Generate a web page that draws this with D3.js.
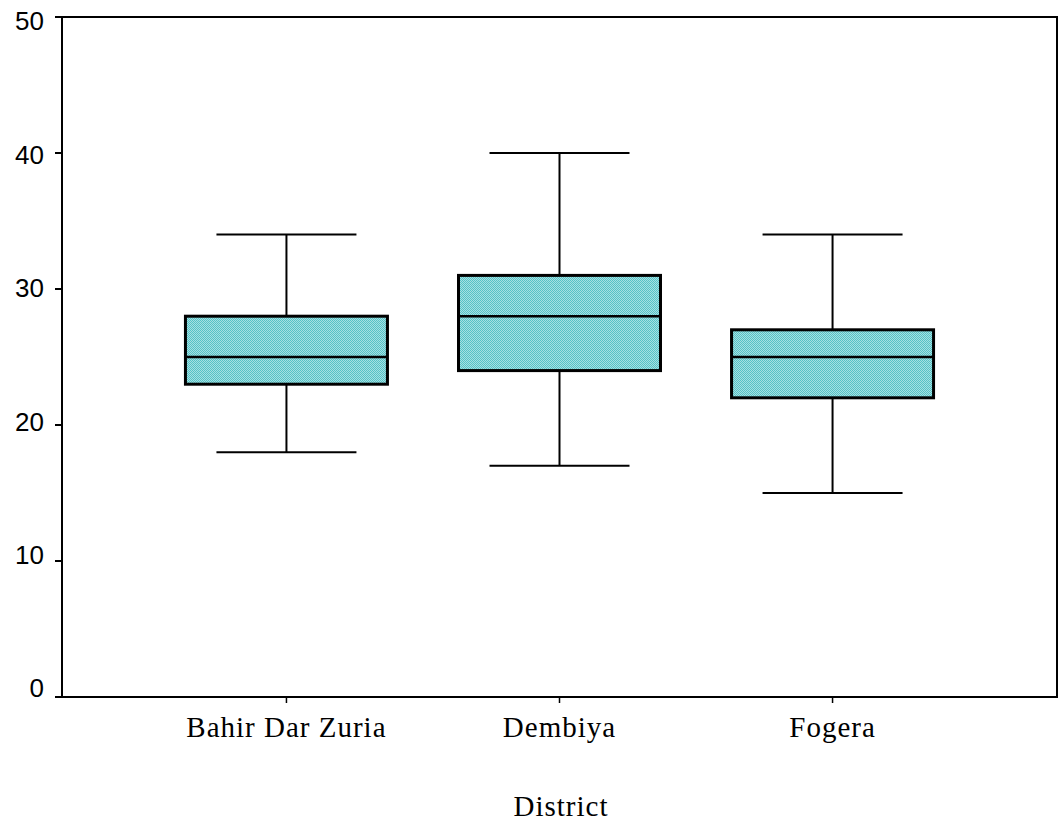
<!DOCTYPE html>
<html><head><meta charset="utf-8">
<script src="https://cdn.jsdelivr.net/npm/d3@7"></script>
<style>body{margin:0;background:#fff}</style>
</head><body>
<svg id="c" width="1059" height="822"></svg>
<script>
const categories = ["Bahir Dar Zuria", "Dembiya", "Fogera"];
const whiskerLow = [18, 17, 15];
const q1 = [23, 24, 22];
const median = [25, 28, 25];
const q3 = [28, 31, 27];
const whiskerHigh = [34, 40, 34];
const yTicks = [0, 10, 20, 30, 40, 50];
const xTitle = "District";

const svg = d3.select("#c");
const L = 62, R = 1057, T = 17, B = 697;
const x = d3.scalePoint().domain(categories).range([L, R]).padding(0.822);
const y = d3.scaleLinear().domain([0, 50]).range([B, T]);
const yLab = d3.scaleLinear().domain([0, 50]).range([688, 21]);

const defs = svg.append("defs");
const pat = defs.append("pattern").attr("id", "chk").attr("width", 2).attr("height", 2)
  .attr("patternUnits", "userSpaceOnUse");
pat.append("rect").attr("width", 2).attr("height", 2).attr("fill", "#a6e0e2");
pat.append("rect").attr("width", 1).attr("height", 1).attr("fill", "#56c2c6");
pat.append("rect").attr("x", 1).attr("y", 1).attr("width", 1).attr("height", 1).attr("fill", "#56c2c6");

// frame
svg.append("rect").attr("x", L).attr("y", T).attr("width", R - L).attr("height", B - T)
  .attr("fill", "none").attr("stroke", "#000").attr("stroke-width", 2);

// y ticks
svg.selectAll(".yt").data(yTicks).join("line")
  .attr("x1", L - 7).attr("x2", L).attr("y1", d => y(d)).attr("y2", d => y(d))
  .attr("stroke", "#000").attr("stroke-width", 2);
svg.selectAll(".yl").data(yTicks).join("text")
  .attr("x", 44).attr("y", d => yLab(d)).attr("dy", "0.36em").attr("text-anchor", "end")
  .attr("font-family", "Liberation Sans, Arial, sans-serif").attr("font-size", 26)
  .text(d => d);

// x ticks
svg.selectAll(".xt").data(categories).join("line")
  .attr("x1", d => x(d)).attr("x2", d => x(d)).attr("y1", B).attr("y2", B + 6)
  .attr("stroke", "#000").attr("stroke-width", 1.5);
svg.selectAll(".xl").data(categories).join("text")
  .attr("x", d => x(d)).attr("y", 737).attr("text-anchor", "middle")
  .attr("font-family", "Liberation Serif, Times New Roman, serif").attr("font-size", 29)
  .attr("letter-spacing", "1px")
  .text(d => d);
svg.append("text").attr("x", 561).attr("y", 816).attr("text-anchor", "middle")
  .attr("font-family", "Liberation Serif, Times New Roman, serif").attr("font-size", 29)
  .attr("letter-spacing", "1px")
  .text(xTitle);

// boxes
const boxW = 202, capW = 140;
const g = svg.selectAll(".box").data(categories.map((c, i) => ({c, i}))).join("g");
g.append("line").attr("x1", d => x(d.c)).attr("x2", d => x(d.c))
  .attr("y1", d => y(whiskerHigh[d.i])).attr("y2", d => y(q3[d.i])).attr("stroke", "#000").attr("stroke-width", 2);
g.append("line").attr("x1", d => x(d.c)).attr("x2", d => x(d.c))
  .attr("y1", d => y(q1[d.i])).attr("y2", d => y(whiskerLow[d.i])).attr("stroke", "#000").attr("stroke-width", 2);
g.append("line").attr("x1", d => x(d.c) - capW / 2).attr("x2", d => x(d.c) + capW / 2)
  .attr("y1", d => y(whiskerHigh[d.i])).attr("y2", d => y(whiskerHigh[d.i])).attr("stroke", "#000").attr("stroke-width", 2);
g.append("line").attr("x1", d => x(d.c) - capW / 2).attr("x2", d => x(d.c) + capW / 2)
  .attr("y1", d => y(whiskerLow[d.i])).attr("y2", d => y(whiskerLow[d.i])).attr("stroke", "#000").attr("stroke-width", 2);
g.append("rect").attr("x", d => x(d.c) - boxW / 2).attr("width", boxW)
  .attr("y", d => y(q3[d.i])).attr("height", d => y(q1[d.i]) - y(q3[d.i]))
  .attr("fill", "url(#chk)").attr("stroke", "#000").attr("stroke-width", 3);
g.append("line").attr("x1", d => x(d.c) - boxW / 2).attr("x2", d => x(d.c) + boxW / 2)
  .attr("y1", d => y(median[d.i])).attr("y2", d => y(median[d.i])).attr("stroke", "#000").attr("stroke-width", 2.5);
</script>
</body></html>
